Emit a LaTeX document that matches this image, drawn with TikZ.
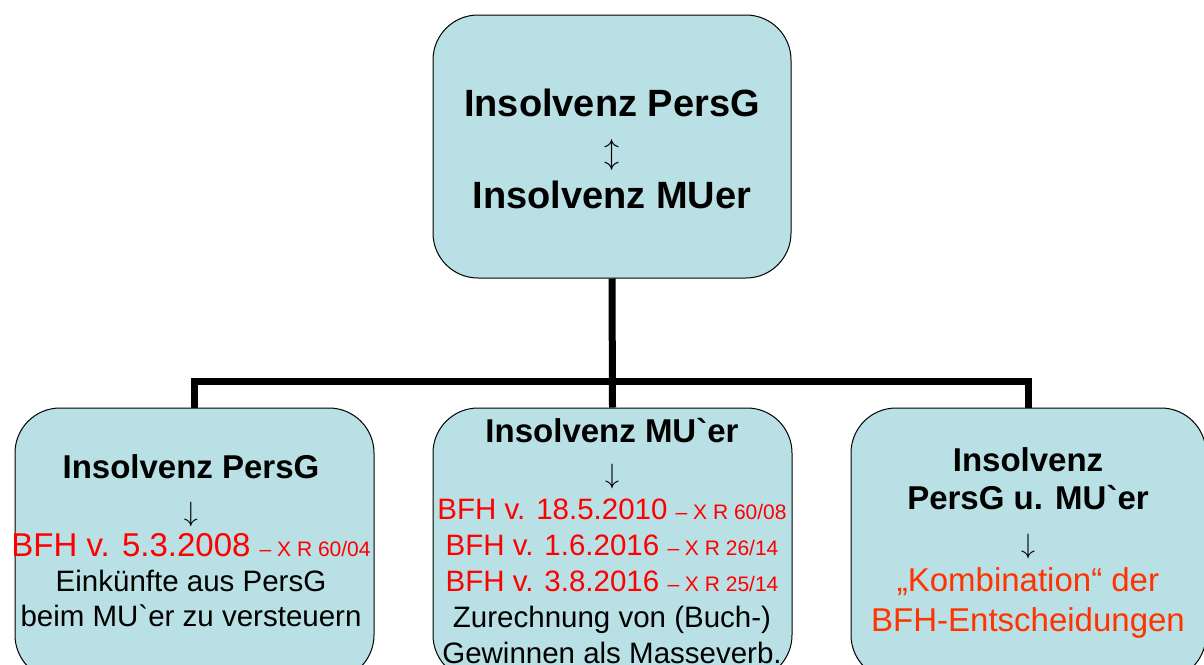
\documentclass[tikz,border=0pt]{standalone}
\usepackage{fix-cm}
\usepackage{fontspec}
\setmainfont{Liberation Sans}[Ligatures=TeXOff]
\usetikzlibrary{calc}
\definecolor{boxfill}{RGB}{185,224,228}
\definecolor{bfhred}{RGB}{255,0,0}
\definecolor{bfhorange}{RGB}{255,51,0}
\newcommand{\pfeil}{{\fontsize{28}{28}\selectfont$\downarrow$}}

\begin{document}
\begin{tikzpicture}[x=1pt,y=-1pt]
		\tikzset{box/.style={draw,fill=boxfill,rounded corners=45pt,line width=1pt,inner sep=0pt}};
		\tikzset{conn/.style={line width=7pt}};
		\tikzset{txt/.style={align=center,inner sep=0pt}};
		
		\useasboundingbox (0,0) rectangle (1204,664);
		\clip (0,0) rectangle (1204,664);
		
		% Kaesten
		\node (top) at (612,146.5) [box,minimum width=358pt,minimum height=263pt]{};
		\node (pg) at (194.5,544) [box,minimum width=359pt,minimum height=272pt]{};
		\node (mu) at (612.5,544) [box,minimum width=359pt,minimum height=272pt]{};
		\node (both) at (1028.5,544) [box,minimum width=355pt,minimum height=272pt]{};
		
		% Verbindungen
		\coordinate (bar) at (612,381);
		\draw [conn] (top.south) -- (mu.north);
		\draw [conn] (pg.north) |- (bar) -| (both.north);
		
		% Texte
		\node (ttop) at (612,149) [txt,font=\bfseries\fontsize{38}{46}\selectfont]
			{Insolvenz PersG\\{\mdseries\fontsize{30}{30}\selectfont$\updownarrow$}\\Insolvenz MUer};
		\node (tpg) at (191,541) [txt,font=\fontsize{29.5}{35}\selectfont]
			{{\bfseries\fontsize{33}{35}\selectfont Insolvenz PersG}\\[8pt]
			\pfeil\\
			\textcolor{bfhred}{\fontsize{33}{35}\selectfont BFH v. 5.3.2008 {\fontsize{21}{35}\selectfont – X R 60/04}}\\
			Einkünfte aus PersG\\
			beim MU`er zu versteuern};
		\node (tmu) at (612,541) [txt,font=\fontsize{29.5}{36}\selectfont]
			{{\bfseries\fontsize{33}{36}\selectfont Insolvenz MU`er}\\[5pt]
			\pfeil\\
			\textcolor{bfhred}{BFH v. 18.5.2010 {\fontsize{21}{36}\selectfont – X R 60/08}}\\
			\textcolor{bfhred}{BFH v. 1.6.2016 {\fontsize{21}{36}\selectfont – X R 26/14}}\\
			\textcolor{bfhred}{BFH v. 3.8.2016 {\fontsize{21}{36}\selectfont – X R 25/14}}\\
			Zurechnung von (Buch-)\\
			Gewinnen als Masseverb.};
		\node (tboth) at (1028,543) [txt,font=\fontsize{33}{38}\selectfont]
			{{\bfseries Insolvenz}\\
			{\bfseries PersG u. MU`er}\\[6pt]
			\pfeil\\
			\textcolor{bfhorange}{„Kombination“ der}\\[2pt]
			\textcolor{bfhorange}{BFH-Entscheidungen}};
\end{tikzpicture}
\end{document}
